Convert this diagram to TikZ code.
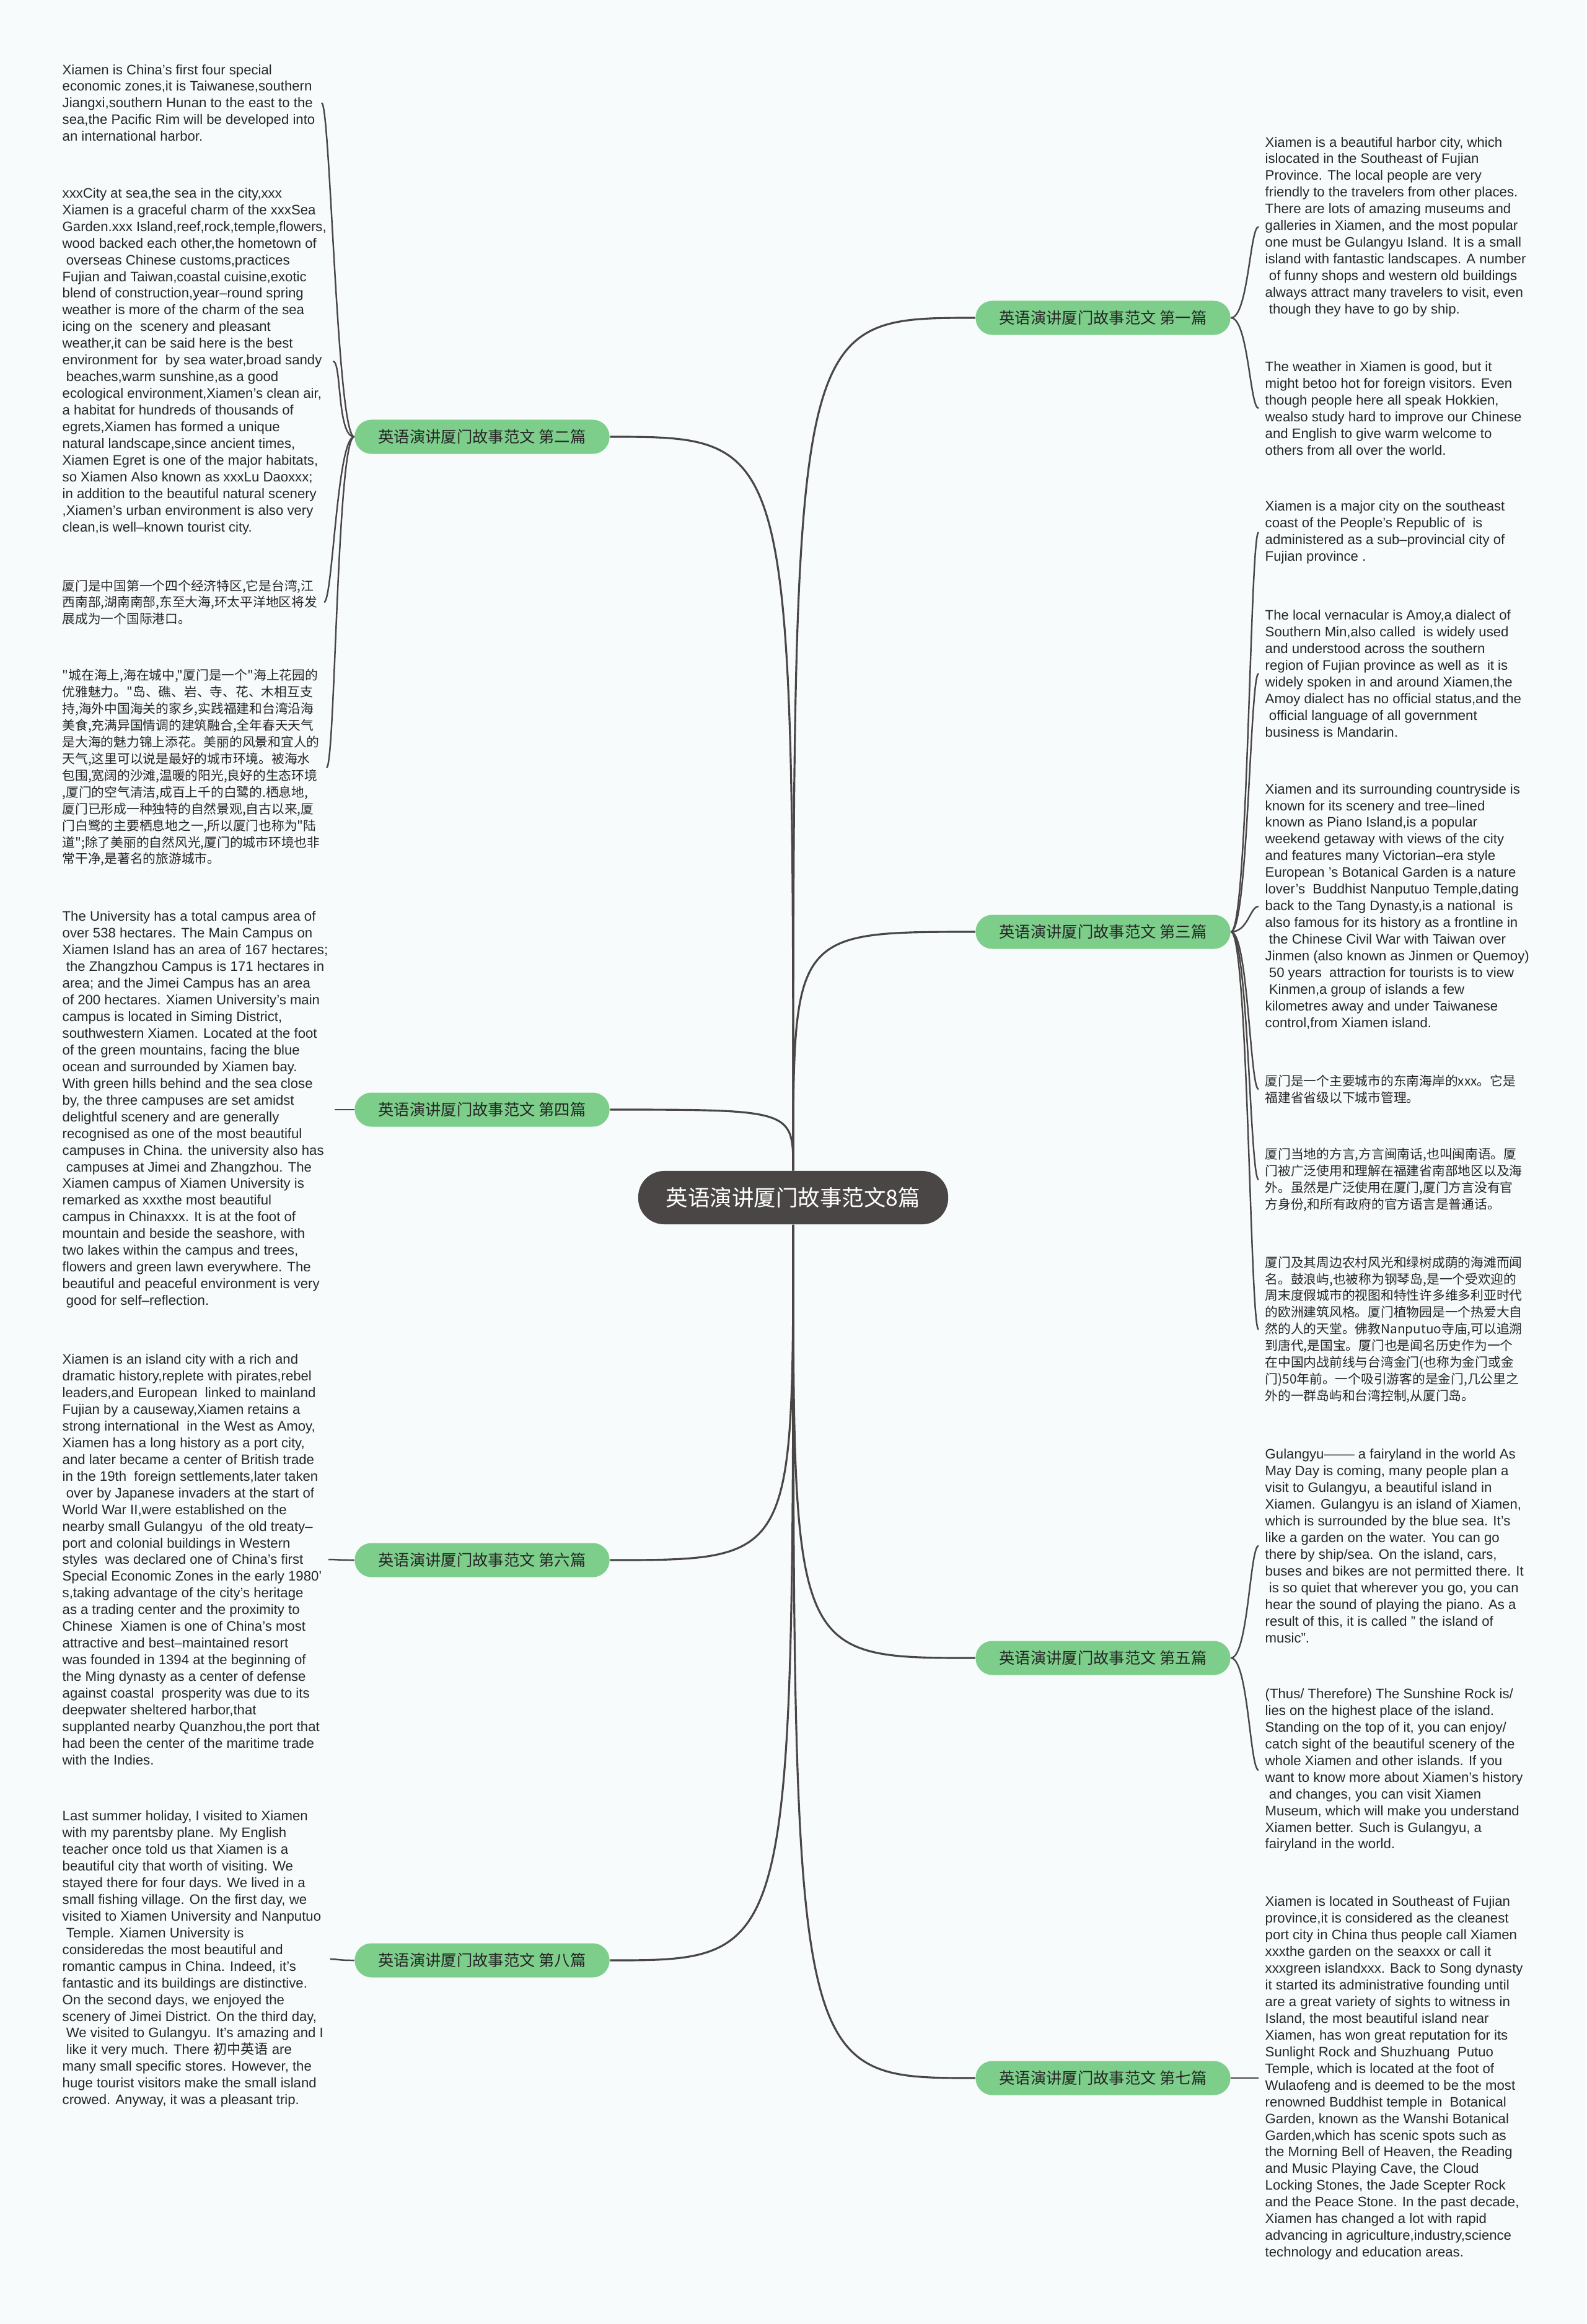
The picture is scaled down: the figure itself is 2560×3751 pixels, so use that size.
\documentclass[tikz,border=0pt]{standalone}
\usepackage{fontspec}
\setmainfont{Liberation Sans}
\newfontfamily\cjk{Noto Sans CJK SC}
\definecolor{rootgray}{HTML}{4A4646}
\definecolor{linkgray}{HTML}{4A4646}
\definecolor{branchgreen}{HTML}{7DCE8B}
\definecolor{leafgray}{HTML}{262626}
\definecolor{paper}{HTML}{F8FBFC}
\newcommand{\indt}{\hspace*{0.28em}}

\begin{document}
\begin{tikzpicture}[
x=0.01cm, y=-0.01cm,
rootbox/.style={rectangle, rounded corners=0.42cm, fill=rootgray, text=white, minimum width=5.0cm, minimum height=0.86cm, font=\cjk\fontsize{10.1}{12}\selectfont},
branchbox/.style={rectangle, rounded corners=0.27cm, fill=branchgreen, text=leafgray, minimum width=4.11cm, minimum height=0.55cm, inner sep=0pt, font=\cjk\fontsize{7.2}{8.6}\selectfont},
leaftext/.style={align=left, inner sep=0.1cm, text=leafgray, font=\fontsize{6.3}{7.66}\selectfont},
cnleaftext/.style={leaftext, font=\cjk\fontsize{5.9}{7.66}\selectfont},
link/.style={draw=linkgray, line width=0.9pt},
sublink/.style={draw=linkgray, line width=0.7pt}
]

\useasboundingbox (0,0) rectangle (2560,3751);
\fill[paper] (0,0) rectangle (2560,3751);

\node[rootbox] (xm_root) at (1280,1933) {英语演讲厦门故事范文8篇};

\node[branchbox] (xm_b1) at (1780,513) {英语演讲厦门故事范文 第一篇};
\node[branchbox] (xm_b3) at (1780,1504) {英语演讲厦门故事范文 第三篇};
\node[branchbox] (xm_b5) at (1780,2676) {英语演讲厦门故事范文 第五篇};
\node[branchbox] (xm_b7) at (1780,3354) {英语演讲厦门故事范文 第七篇};
\node[branchbox] (xm_b2) at (778,705) {英语演讲厦门故事范文 第二篇};
\node[branchbox] (xm_b4) at (778,1791) {英语演讲厦门故事范文 第四篇};
\node[branchbox] (xm_b6) at (778,2518) {英语演讲厦门故事范文 第六篇};
\node[branchbox] (xm_b8) at (778,3164) {英语演讲厦门故事范文 第八篇};

\node[leaftext, anchor=west] (xm_l1) at (90,166) {Xiamen is China's first four special\\
economic zones,it is Taiwanese,southern\\
Jiangxi,southern Hunan to the east to the\\
sea,the Pacific Rim will be developed into\\
an international harbor.};

\node[leaftext, anchor=west] (xm_l2) at (90,583) {xxxCity at sea,the sea in the city,xxx\\
Xiamen is a graceful charm of the xxxSea\\
Garden.xxx Island,reef,rock,temple,flowers,\\
wood backed each other,the hometown of\\
\indt overseas Chinese customs,practices\\
Fujian and Taiwan,coastal cuisine,exotic\\
blend of construction,year–round spring\\
weather is more of the charm of the sea\\
icing on the~ scenery and pleasant\\
weather,it can be said here is the best\\
environment for~ by sea water,broad sandy\\
\indt beaches,warm sunshine,as a good\\
ecological environment,Xiamen's clean air,\\
a habitat for hundreds of thousands of\\
egrets,Xiamen has formed a unique\\
natural landscape,since ancient times,\\
Xiamen Egret is one of the major habitats,\\
so Xiamen Also known as xxxLu Daoxxx;\\
in addition to the beautiful natural scenery\\
,Xiamen's urban environment is also very\\
clean,is well–known tourist city.};

\node[cnleaftext, anchor=west] (xm_l3) at (90,972) {厦门是中国第一个四个经济特区,它是台湾,江\\
西南部,湖南南部,东至大海,环太平洋地区将发\\
展成为一个国际港口。};

\node[cnleaftext, anchor=west] (xm_l4) at (90,1239) {"城在海上,海在城中,"厦门是一个"海上花园的\\
优雅魅力。"岛、礁、岩、寺、花、木相互支\\
持,海外中国海关的家乡,实践福建和台湾沿海\\
美食,充满异国情调的建筑融合,全年春天天气\\
是大海的魅力锦上添花。美丽的风景和宜人的\\
天气,这里可以说是最好的城市环境。被海水\\
包围,宽阔的沙滩,温暖的阳光,良好的生态环境\\
,厦门的空气清洁,成百上千的白鹭的.栖息地,\\
厦门已形成一种独特的自然景观,自古以来,厦\\
门白鹭的主要栖息地之一,所以厦门也称为"陆\\
道";除了美丽的自然风光,厦门的城市环境也非\\
常干净,是著名的旅游城市。};

\node[leaftext, anchor=west] (xm_l5) at (90,1791) {The University has a total campus area of\\
over 538 hectares. The Main Campus on\\
Xiamen Island has an area of 167 hectares;\\
\indt the Zhangzhou Campus is 171 hectares in\\
area; and the Jimei Campus has an area\\
of 200 hectares. Xiamen University's main\\
campus is located in Siming District,\\
southwestern Xiamen. Located at the foot\\
of the green mountains, facing the blue\\
ocean and surrounded by Xiamen bay.\\
With green hills behind and the sea close\\
by, the three campuses are set amidst\\
delightful scenery and are generally\\
recognised as one of the most beautiful\\
campuses in China. the university also has\\
\indt campuses at Jimei and Zhangzhou. The\\
Xiamen campus of Xiamen University is\\
remarked as xxxthe most beautiful\\
campus in Chinaxxx. It is at the foot of\\
mountain and beside the seashore, with\\
two lakes within the campus and trees,\\
flowers and green lawn everywhere. The\\
beautiful and peaceful environment is very\\
\indt good for self–reflection.};

\node[leaftext, anchor=west] (xm_l6) at (90,2517) {Xiamen is an island city with a rich and\\
dramatic history,replete with pirates,rebel\\
leaders,and European~ linked to mainland\\
Fujian by a causeway,Xiamen retains a\\
strong international~ in the West as Amoy,\\
Xiamen has a long history as a port city,\\
and later became a center of British trade\\
in the 19th~ foreign settlements,later taken\\
\indt over by Japanese invaders at the start of\\
World War II,were established on the\\
nearby small Gulangyu~ of the old treaty–\\
port and colonial buildings in Western\\
styles~ was declared one of China’s first\\
Special Economic Zones in the early 1980’\\
s,taking advantage of the city’s heritage\\
as a trading center and the proximity to\\
Chinese~ Xiamen is one of China’s most\\
attractive and best–maintained resort\\
was founded in 1394 at the beginning of\\
the Ming dynasty as a center of defense\\
against coastal~ prosperity was due to its\\
deepwater sheltered harbor,that\\
supplanted nearby Quanzhou,the port that\\
had been the center of the maritime trade\\
with the Indies.};

\node[leaftext, anchor=west] (xm_l7) at (90,3162) {Last summer holiday, I visited to Xiamen\\
with my parentsby plane. My English\\
teacher once told us that Xiamen is a\\
beautiful city that worth of visiting. We\\
stayed there for four days. We lived in a\\
small fishing village. On the first day, we\\
visited to Xiamen University and Nanputuo\\
\indt Temple. Xiamen University is\\
consideredas the most beautiful and\\
romantic campus in China. Indeed, it's\\
fantastic and its buildings are distinctive.\\
On the second days, we enjoyed the\\
scenery of Jimei District. On the third day,\\
\indt We visited to Gulangyu. It's amazing and I\\
\indt like it very much. There {\cjk 初中英语} are\\
many small specific stores. However, the\\
huge tourist visitors make the small island\\
crowed. Anyway, it was a pleasant trip.};

\node[leaftext, anchor=west] (xm_r1) at (2031,366) {Xiamen is a beautiful harbor city, which\\
islocated in the Southeast of Fujian\\
Province. The local people are very\\
friendly to the travelers from other places.\\
There are lots of amazing museums and\\
galleries in Xiamen, and the most popular\\
one must be Gulangyu Island. It is a small\\
island with fantastic landscapes. A number\\
\indt of funny shops and western old buildings\\
always attract many travelers to visit, even\\
\indt though they have to go by ship.};

\node[leaftext, anchor=west] (xm_r2) at (2031,659) {The weather in Xiamen is good, but it\\
might betoo hot for foreign visitors. Even\\
though people here all speak Hokkien,\\
wealso study hard to improve our Chinese\\
and English to give warm welcome to\\
others from all over the world.};

\node[leaftext, anchor=west] (xm_r3) at (2031,859) {Xiamen is a major city on the southeast\\
coast of the People's Republic of~ is\\
administered as a sub–provincial city of\\
Fujian province .};

\node[leaftext, anchor=west] (xm_r4) at (2031,1087) {The local vernacular is Amoy,a dialect of\\
Southern Min,also called~ is widely used\\
and understood across the southern\\
region of Fujian province as well as~ it is\\
widely spoken in and around Xiamen,the\\
Amoy dialect has no official status,and the\\
\indt official language of all government\\
business is Mandarin.};

\node[leaftext, anchor=west] (xm_r5) at (2031,1463) {Xiamen and its surrounding countryside is\\
known for its scenery and tree–lined\\
known as Piano Island,is a popular\\
weekend getaway with views of the city\\
and features many Victorian–era style\\
European 's Botanical Garden is a nature\\
lover's~ Buddhist Nanputuo Temple,dating\\
back to the Tang Dynasty,is a national~ is\\
also famous for its history as a frontline in\\
\indt the Chinese Civil War with Taiwan over\\
Jinmen (also known as Jinmen or Quemoy)\\
\indt 50 years~ attraction for tourists is to view\\
\indt Kinmen,a group of islands a few\\
kilometres away and under Taiwanese\\
control,from Xiamen island.};

\node[cnleaftext, anchor=west] (xm_r6) at (2031,1758) {厦门是一个主要城市的东南海岸的xxx。它是\\
福建省省级以下城市管理。};

\node[cnleaftext, anchor=west] (xm_r7) at (2031,1904) {厦门当地的方言,方言闽南话,也叫闽南语。厦\\
门被广泛使用和理解在福建省南部地区以及海\\
外。虽然是广泛使用在厦门,厦门方言没有官\\
方身份,和所有政府的官方语言是普通话。};

\node[cnleaftext, anchor=west] (xm_r8) at (2031,2146) {厦门及其周边农村风光和绿树成荫的海滩而闻\\
名。鼓浪屿,也被称为钢琴岛,是一个受欢迎的\\
周末度假城市的视图和特性许多维多利亚时代\\
的欧洲建筑风格。厦门植物园是一个热爱大自\\
然的人的天堂。佛教Nanputuo寺庙,可以追溯\\
到唐代,是国宝。厦门也是闻名历史作为一个\\
在中国内战前线与台湾金门(也称为金门或金\\
门)50年前。一个吸引游客的是金门,几公里之\\
外的一群岛屿和台湾控制,从厦门岛。};

\node[leaftext, anchor=west] (xm_r9) at (2031,2495) {Gulangyu–––– a fairyland in the world As\\
May Day is coming, many people plan a\\
visit to Gulangyu, a beautiful island in\\
Xiamen. Gulangyu is an island of Xiamen,\\
which is surrounded by the blue sea. It’s\\
like a garden on the water. You can go\\
there by ship/sea. On the island, cars,\\
buses and bikes are not permitted there. It\\
\indt is so quiet that wherever you go, you can\\
hear the sound of playing the piano. As a\\
result of this, it is called " the island of\\
music".};

\node[leaftext, anchor=west] (xm_r10) at (2031,2857) {(Thus/ Therefore) The Sunshine Rock is/\\
lies on the highest place of the island.\\
Standing on the top of it, you can enjoy/\\
catch sight of the beautiful scenery of the\\
whole Xiamen and other islands. If you\\
want to know more about Xiamen’s history\\
\indt and changes, you can visit Xiamen\\
Museum, which will make you understand\\
Xiamen better. Such is Gulangyu, a\\
fairyland in the world.};

\node[leaftext, anchor=west] (xm_r11) at (2031,3354) {Xiamen is located in Southeast of Fujian\\
province,it is considered as the cleanest\\
port city in China thus people call Xiamen\\
xxxthe garden on the seaxxx or call it\\
xxxgreen islandxxx. Back to Song dynasty\\
it started its administrative founding until\\
are a great variety of sights to witness in\\
Island, the most beautiful island near\\
Xiamen, has won great reputation for its\\
Sunlight Rock and Shuzhuang~ Putuo\\
Temple, which is located at the foot of\\
Wulaofeng and is deemed to be the most\\
renowned Buddhist temple in~ Botanical\\
Garden, known as the Wanshi Botanical\\
Garden,which has scenic spots such as\\
the Morning Bell of Heaven, the Reading\\
and Music Playing Cave, the Cloud\\
Locking Stones, the Jade Scepter Rock\\
and the Peace Stone. In the past decade,\\
Xiamen has changed a lot with rapid\\
advancing in agriculture,industry,science\\
technology and education areas.};

\draw[link] (xm_root.north) .. controls (xm_root.north |- xm_b1.west) .. (xm_b1.west);
\draw[link] (xm_root.north) .. controls (xm_root.north |- xm_b3.west) .. (xm_b3.west);
\draw[link] (xm_root.north) .. controls (xm_root.north |- xm_b2.east) .. (xm_b2.east);
\draw[link] (xm_root.north) .. controls (xm_root.north |- xm_b4.east) .. (xm_b4.east);
\draw[link] (xm_root.south) .. controls (xm_root.south |- xm_b5.west) .. (xm_b5.west);
\draw[link] (xm_root.south) .. controls (xm_root.south |- xm_b7.west) .. (xm_b7.west);
\draw[link] (xm_root.south) .. controls (xm_root.south |- xm_b6.east) .. (xm_b6.east);
\draw[link] (xm_root.south) .. controls (xm_root.south |- xm_b8.east) .. (xm_b8.east);

\draw[sublink] (xm_b1.east) .. controls +(28,0) and +(-14,0) .. (xm_r1.west);
\draw[sublink] (xm_b1.east) .. controls +(28,0) and +(-14,0) .. (xm_r2.west);
\draw[sublink] (xm_b3.east) .. controls +(28,0) and +(-14,0) .. (xm_r3.west);
\draw[sublink] (xm_b3.east) .. controls +(28,0) and +(-14,0) .. (xm_r4.west);
\draw[sublink] (xm_b3.east) .. controls +(28,0) and +(-14,0) .. (xm_r5.west);
\draw[sublink] (xm_b3.east) .. controls +(28,0) and +(-14,0) .. (xm_r6.west);
\draw[sublink] (xm_b3.east) .. controls +(28,0) and +(-14,0) .. (xm_r7.west);
\draw[sublink] (xm_b3.east) .. controls +(28,0) and +(-14,0) .. (xm_r8.west);
\draw[sublink] (xm_b5.east) .. controls +(28,0) and +(-14,0) .. (xm_r9.west);
\draw[sublink] (xm_b5.east) .. controls +(28,0) and +(-14,0) .. (xm_r10.west);
\draw[sublink] (xm_b7.east) .. controls +(28,0) and +(-14,0) .. (xm_r11.west);

\draw[sublink] (xm_b2.west) .. controls +(-28,0) and +(14,0) .. (xm_l1.east);
\draw[sublink] (xm_b2.west) .. controls +(-28,0) and +(14,0) .. (xm_l2.east);
\draw[sublink] (xm_b2.west) .. controls +(-28,0) and +(14,0) .. (xm_l3.east);
\draw[sublink] (xm_b2.west) .. controls +(-28,0) and +(14,0) .. (xm_l4.east);
\draw[sublink] (xm_b4.west) .. controls +(-28,0) and +(14,0) .. (xm_l5.east);
\draw[sublink] (xm_b6.west) .. controls +(-28,0) and +(14,0) .. (xm_l6.east);
\draw[sublink] (xm_b8.west) .. controls +(-28,0) and +(14,0) .. (xm_l7.east);

\end{tikzpicture}
\end{document}
